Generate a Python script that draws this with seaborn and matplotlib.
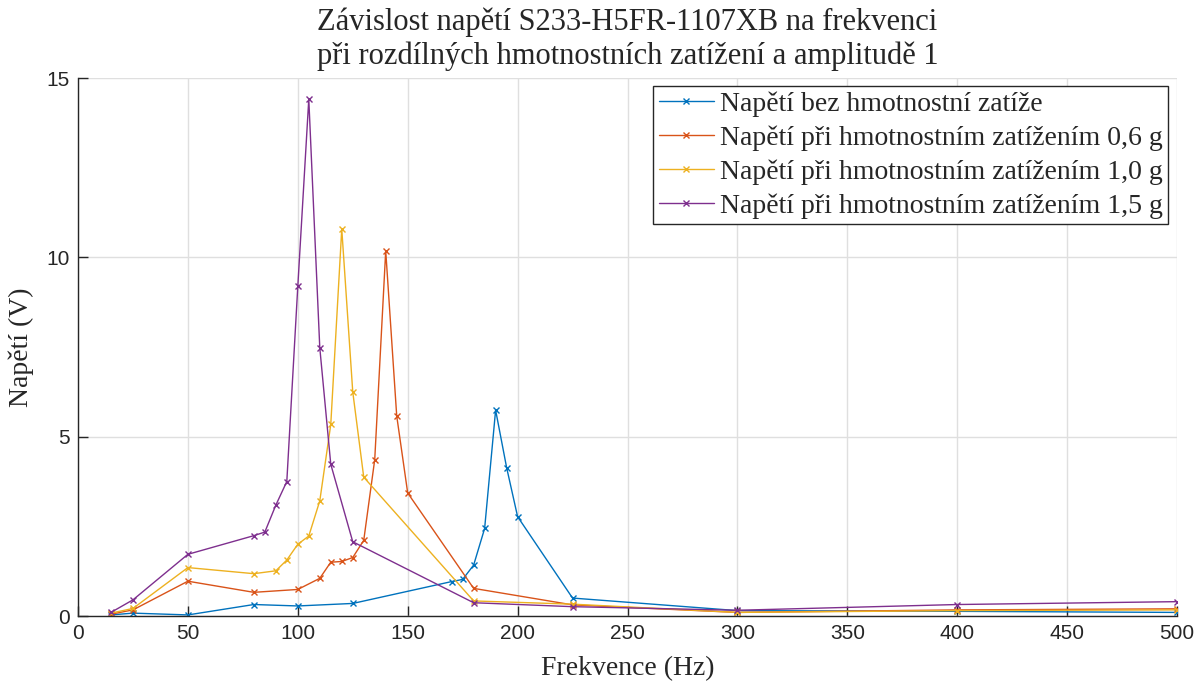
import numpy as np
import pandas as pd
import matplotlib
matplotlib.use("Agg")
import matplotlib.pyplot as plt
import seaborn as sns
from matplotlib.lines import Line2D

# ---- data ----
f_bez = [15, 25, 50, 80, 100, 125, 170, 175, 180, 185, 190, 195, 200, 225, 300, 400, 500]
u_bez = [0.03, 0.08, 0.03, 0.32, 0.28, 0.35, 0.96, 1.02, 1.42, 2.44, 5.74, 4.14, 2.77, 0.50, 0.15, 0.13, 0.10]

f_06 = [15, 25, 50, 80, 100, 110, 115, 120, 125, 130, 135, 140, 145, 150, 180, 225, 300, 400, 500]
u_06 = [0.05, 0.17, 0.97, 0.66, 0.74, 1.05, 1.50, 1.52, 1.63, 2.11, 4.36, 10.18, 5.58, 3.43, 0.77, 0.31, 0.10, 0.17, 0.20]

f_10 = [15, 25, 50, 80, 90, 95, 100, 105, 110, 115, 120, 125, 130, 180, 225, 300, 400, 500]
u_10 = [0.08, 0.21, 1.35, 1.18, 1.26, 1.56, 2.00, 2.23, 3.21, 5.34, 10.79, 6.25, 3.87, 0.42, 0.33, 0.10, 0.15, 0.17]

f_15 = [15, 25, 50, 80, 85, 90, 95, 100, 105, 110, 115, 125, 180, 225, 300, 400, 500]
u_15 = [0.10, 0.45, 1.72, 2.24, 2.34, 3.09, 3.75, 9.19, 14.41, 7.48, 4.23, 2.07, 0.37, 0.26, 0.16, 0.32, 0.40]

labels = ["Napětí bez hmotnostní zatíže",
          "Napětí při hmotnostním zatížením 0,6 g",
          "Napětí při hmotnostním zatížením 1,0 g",
          "Napětí při hmotnostním zatížením 1,5 g"]
colors = ["#0072BD", "#D95319", "#EDB120", "#7E2F8E"]

title = "Závislost napětí S233-H5FR-1107XB na frekvenci\npři rozdílných hmotnostních zatížení a amplitudě 1"
xlabel = "Frekvence (Hz)"
ylabel = "Napětí (V)"

frames = []
for f, u, lab in zip([f_bez, f_06, f_10, f_15], [u_bez, u_06, u_10, u_15], labels):
    frames.append(pd.DataFrame({"f": f, "u": u, "serie": lab}))
df = pd.concat(frames, ignore_index=True)

sns.set_theme(style="white")
plt.rcParams['font.family'] = ['Liberation Serif', 'DejaVu Serif']

fig = plt.figure(figsize=(12.04, 6.86), dpi=100)
ax = fig.add_axes([78/1204, 1-616/686, (1177-78)/1204, (616-78)/686])

sns.lineplot(data=df, x="f", y="u", hue="serie", hue_order=labels, palette=colors,
             marker="x", markersize=5, markeredgewidth=1.0, linewidth=1.0,
             estimator=None, sort=False, units="serie", ax=ax, legend=False)
for ln in ax.lines:
    ln.set_markeredgecolor(ln.get_color())
    ln.set_markerfacecolor(ln.get_color())

ax.set_xlim(0, 500)
ax.set_ylim(0, 15)
ax.set_xticks(np.arange(0, 501, 50))
ax.set_yticks([0, 5, 10, 15])
ax.grid(True, color="#dfdfdf", linewidth=1.0)
ax.set_axisbelow(True)
for s in ["top", "right"]:
    ax.spines[s].set_visible(False)
for s in ["left", "bottom"]:
    ax.spines[s].set_color("#262626")
    ax.spines[s].set_linewidth(1.0)
ax.tick_params(bottom=True, left=True, direction="in", length=7, width=1,
               color="#262626", labelcolor="#262626", labelsize=15, pad=6)
for lbl in ax.get_xticklabels() + ax.get_yticklabels():
    lbl.set_fontfamily("Liberation Sans")

ax.set_xlabel(xlabel, fontsize=20, color="#262626", labelpad=9)
ax.set_ylabel(ylabel, fontsize=20, color="#262626", labelpad=9)
ax.set_title(title, fontsize=22, color="#262626", linespacing=1.2, pad=10)

handles = [Line2D([0], [0], color=c, marker="x", markersize=4, linewidth=1.0) for c in colors]
leg = ax.legend(handles, labels, loc="upper right", bbox_to_anchor=(0.992, 0.985),
                fontsize=20, frameon=True, fancybox=False, framealpha=1,
                edgecolor="#262626", handlelength=2.0, handletextpad=0.2,
                borderpad=0.2, labelspacing=0.3, borderaxespad=0)
leg.get_frame().set_linewidth(1.0)

fig.savefig("out.png", dpi=100)
